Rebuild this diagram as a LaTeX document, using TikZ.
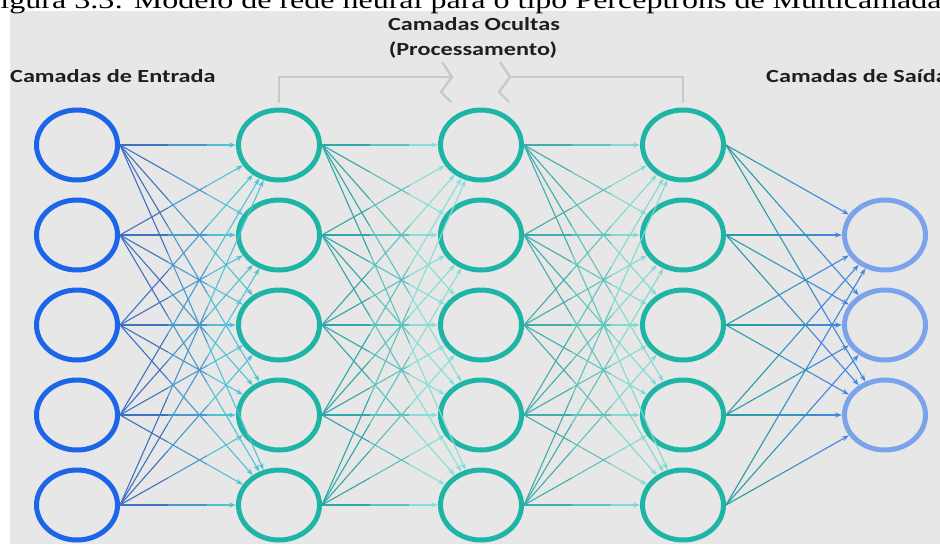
\documentclass[tikz,border=0pt]{standalone}
\usepackage{fontspec}
\setmainfont{Liberation Serif}
\newfontfamily\labelfont{Carlito}
\usepackage{graphicx}
\usepackage{tikz}
\usetikzlibrary{arrows.meta,calc,shapes.geometric}
\definecolor{bggray}{HTML}{E7E7E7}
\definecolor{brkgray}{HTML}{C9C9C9}
\definecolor{txtdark}{HTML}{1E1E1E}
\definecolor{inblue}{HTML}{1C64E8}
\definecolor{hidteal}{HTML}{1FB5A6}
\definecolor{outblue}{HTML}{7AA3EC}
\definecolor{lnAa}{HTML}{3F70C2}
\definecolor{lnAb}{HTML}{4FC2D6}
\definecolor{lnBa}{HTML}{2FA6A8}
\definecolor{lnBb}{HTML}{84E0D6}
\definecolor{lnCa}{HTML}{40ADAC}
\definecolor{lnCb}{HTML}{80DAD0}
\definecolor{lnDa}{HTML}{289DA8}
\definecolor{lnDb}{HTML}{4286DE}

% the original figure is stretched sideways
\newcommand\widetxt[1]{\scalebox{1.31}[1]{#1}}

% link drawn in three parts so its colour runs from source to target
\newcommand\gradlink[4]{%
  \draw[link,#3] (#1.east) -- ($(#1.east)!0.3!(#2)$);
  \draw[link,#3!50!#4] ($(#1.east)!0.3!(#2)$) -- ($(#1.east)!0.55!(#2)$);
  \draw[link,tip,#4] ($(#1.east)!0.55!(#2)$) -- (#2);
}

\begin{document}
\begin{tikzpicture}[x=1pt,y=-1pt,
    neuron/.style={draw=#1, ellipse, line width=5pt, minimum width=81pt,
                   minimum height=70pt, inner sep=0pt},
    link/.style={line width=1.1pt},
    tip/.style={-{Stealth[length=7pt,width=5pt]}},
    lbl/.style={font=\labelfont\bfseries\fontsize{18.5}{22}\selectfont,
                text=txtdark, inner sep=0pt},
    brk/.style={line width=1.5pt, brkgray},
    zig/.style={line width=2.4pt, brkgray, line join=miter}
  ]
    \useasboundingbox (0,0) rectangle (940,544);
    \fill[bggray] (10,11) rectangle (940,544);

    % === Caption (cut by the page) ===
    \node[anchor=base west, inner sep=0pt, font=\fontsize{25}{27}\selectfont]
      (cap) at (-17.5,8)
      {\scalebox{1.28}[1]{Figura 3.3: Modelo de rede neural para o tipo Perceptrons de Multicamadas}};

    % === Neurons ===
    \foreach \i/\y in {1/145,2/235,3/325,4/415,5/505} {
      \node[neuron=inblue] (in\i) at (77,\y) {};
      \node[neuron=hidteal] (ha\i) at (279,\y) {};
      \node[neuron=hidteal] (hb\i) at (481,\y) {};
      \node[neuron=hidteal] (hc\i) at (683,\y) {};
    }
    \foreach \i/\y in {1/235,2/325,3/415} {
      \node[neuron=outblue] (out\i) at (885,\y) {};
    }

    % === Links ===
    \foreach \s in {1,...,5} {
      \foreach \t in {1,...,5} {
        \gradlink{in\s}{ha\t}{lnAa}{lnAb}
        \gradlink{ha\s}{hb\t}{lnBa}{lnBb}
        \gradlink{hb\s}{hc\t}{lnCa}{lnCb}
      }
      \foreach \t in {1,2,3} {
        \gradlink{hc\s}{out\t}{lnDa}{lnDb}
      }
    }

    % === Labels ===
    \node[lbl, anchor=base west] (lblin) at (10,82) {\widetxt{Camadas de Entrada}};
    \node[lbl, anchor=base west] (lblout) at (766,82) {\widetxt{Camadas de Saída}};
    \node[lbl, anchor=base] (lblhid) at (474,30) {\widetxt{Camadas Ocultas}};
    \node[lbl, anchor=base] (lblproc) at (473,55) {\widetxt{(Processamento)}};

    % === Bracket over the hidden layers ===
    \draw[brk] ([yshift=5pt]ha1.north) |- ($(hb1.north)+(-29,-30.5)$);
    \draw[brk] ([yshift=5pt]hc1.north) |- ($(hb1.north)+(29,-30.5)$);
    \foreach \dx in {-29,29} {
      \draw[zig] ($(hb1.north)+(\dx-10,-45.5)$) -- ($(hb1.north)+(\dx,-30.5)$)
        -- ($(hb1.north)+(\dx-11,-15.5)$) -- ($(hb1.north)+(\dx-1,-5.5)$);
    }
  \end{tikzpicture}
\end{document}
